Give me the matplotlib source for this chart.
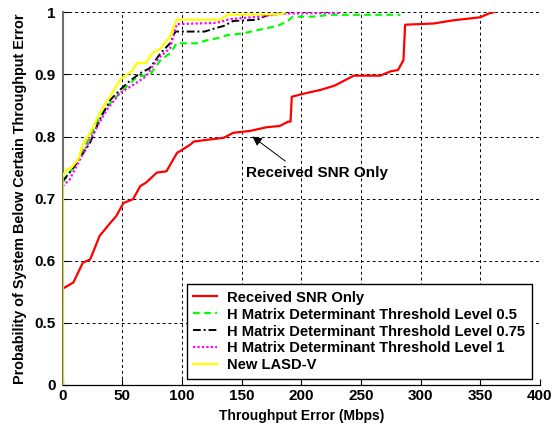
import matplotlib
matplotlib.use("Agg")
import matplotlib.pyplot as plt

plt.rcParams["font.family"] = ["Liberation Sans", "DejaVu Sans"]
plt.rcParams["font.weight"] = "bold"

# Received SNR Only
snr_x = [0, 9, 17, 23, 26, 31, 40, 45, 51, 59, 65, 70, 79, 87, 96, 98, 107, 110,
         135, 143, 157, 171, 182, 189, 191, 192, 202, 216, 228, 244, 266, 275,
         281, 285.6, 287, 311, 327, 350, 357, 361]
snr_y = [0.555, 0.565, 0.597, 0.602, 0.616, 0.640, 0.661, 0.672, 0.693, 0.699,
         0.720, 0.726, 0.742, 0.744, 0.774, 0.776, 0.787, 0.792, 0.798, 0.806,
         0.809, 0.815, 0.817, 0.824, 0.824, 0.864, 0.869, 0.875, 0.882, 0.898,
         0.898, 0.905, 0.907, 0.923, 0.980, 0.982, 0.987, 0.992, 0.998, 1.0]

# H Matrix Determinant Threshold Level 0.5
h05_x = [0, 6, 14.5, 23, 31, 40, 48, 54, 63, 73, 82, 90, 95.6, 112, 121, 129,
         137.5, 151, 165, 180, 188, 193, 210, 224, 266, 283]
h05_y = [0.726, 0.742, 0.768, 0.800, 0.832, 0.854, 0.870, 0.881, 0.897, 0.899,
         0.923, 0.934, 0.950, 0.950, 0.955, 0.958, 0.963, 0.966, 0.972, 0.978,
         0.985, 0.993, 0.993, 0.996, 0.996, 0.996]

# H Matrix Determinant Threshold Level 0.75
h075_x = [0, 10, 23, 31, 40, 48, 56, 65, 73, 82, 90, 94.5, 119, 129, 135, 143,
          163, 171, 185, 190]
h075_y = [0.728, 0.752, 0.790, 0.827, 0.859, 0.875, 0.889, 0.902, 0.910, 0.934,
          0.950, 0.969, 0.969, 0.975, 0.978, 0.986, 0.988, 0.995, 0.999, 1.0]

# H Matrix Determinant Threshold Level 1
h1_x = [0, 6, 14.5, 26, 37, 48, 59, 70, 76, 82, 90, 95.6, 129, 140, 165, 185, 233]
h1_y = [0.720, 0.731, 0.763, 0.806, 0.843, 0.870, 0.883, 0.897, 0.915, 0.929,
        0.942, 0.981, 0.983, 0.989, 0.993, 0.998, 0.999]

# New LASD-V
lasd_x = [0, 0, 3.4, 7.5, 13, 17, 23, 28.5, 34, 40, 48, 52, 59, 62, 70, 75,
          82, 90, 95.6, 132, 138, 182, 186]
lasd_y = [0.0, 0.736, 0.747, 0.750, 0.763, 0.787, 0.806, 0.827, 0.848, 0.865,
          0.891, 0.897, 0.907, 0.918, 0.919, 0.934, 0.942, 0.961, 0.988, 0.988,
          0.996, 0.997, 1.0]

labels = ["Received SNR Only",
          "H Matrix Determinant Threshold Level 0.5",
          "H Matrix Determinant Threshold Level 0.75",
          "H Matrix Determinant Threshold Level 1",
          "New LASD-V"]

x_ticks = [0, 50, 100, 150, 200, 250, 300, 350, 400]
y_ticks = [0.4, 0.5, 0.6, 0.7, 0.8, 0.9, 1.0]
y_tick_labels = ["0", "0.5", "0.6", "0.7", "0.8", "0.9", "1"]

fig = plt.figure(figsize=(5.59, 4.30), dpi=100)
ax = fig.add_axes([0.112, 0.1047, 0.854, 0.8667])

ax.plot(snr_x, snr_y, color="red", lw=1.6, linestyle="-", label=labels[0], zorder=3)
ax.plot(h05_x, h05_y, color="#00ff00", lw=1.6, linestyle=(0, (3, 2)), label=labels[1], zorder=3)
ax.plot(h075_x, h075_y, color="black", lw=1.4, linestyle=(0, (4, 1.5, 1, 1.5)), label=labels[2], zorder=3)
ax.plot(h1_x, h1_y, color="magenta", lw=1.6, linestyle=(0, (1, 1)), label=labels[3], zorder=3)
ax.plot(lasd_x, lasd_y, color="yellow", lw=1.6, linestyle="-", label=labels[4], zorder=3)

ax.set_xlim(0, 400)
ax.set_ylim(0.4, 1.0)
ax.set_xticks(x_ticks)
ax.set_xticklabels([str(v) for v in x_ticks])
ax.set_yticks(y_ticks)
ax.set_yticklabels(y_tick_labels)
ax.tick_params(direction="in", length=4, labelsize=11, pad=3, width=0.8)
ax.tick_params(axis="y", pad=5)

ax.grid(True, color="black", linestyle=(0, (3, 3)), lw=0.7)
for side in ["top", "right"]:
    ax.spines[side].set_visible(False)
ax.spines["left"].set_color("#707070")
ax.spines["left"].set_linewidth(1.5)
ax.spines["left"].set_zorder(2)
ax.spines["bottom"].set_linewidth(0.9)

ax.set_xlabel("Throughput Error (Mbps)", fontsize=10, fontweight="bold", labelpad=4)
ax.set_ylabel("Probability of System Below Certain Throughput Error", fontsize=10.4,
              fontweight="bold", labelpad=5)

ax.annotate("Received SNR Only", xy=(159, 0.800), xytext=(213, 0.742),
            ha="center", va="center", fontsize=11, fontweight="bold",
            arrowprops=dict(arrowstyle="-|>", color="black", lw=0.7,
                            mutation_scale=14, relpos=(0.32, 1.0), shrinkA=2, shrinkB=0))

leg = ax.legend(loc="lower right", bbox_to_anchor=(0.983, 0.016), borderaxespad=0,
                fancybox=False, framealpha=1, edgecolor="black",
                handlelength=1.6, handletextpad=0.7, labelspacing=0.2,
                borderpad=0.45, prop={"weight": "bold", "size": 10.6})
leg.get_frame().set_linewidth(1.0)

fig.savefig("out.png", dpi=100, facecolor="white")
